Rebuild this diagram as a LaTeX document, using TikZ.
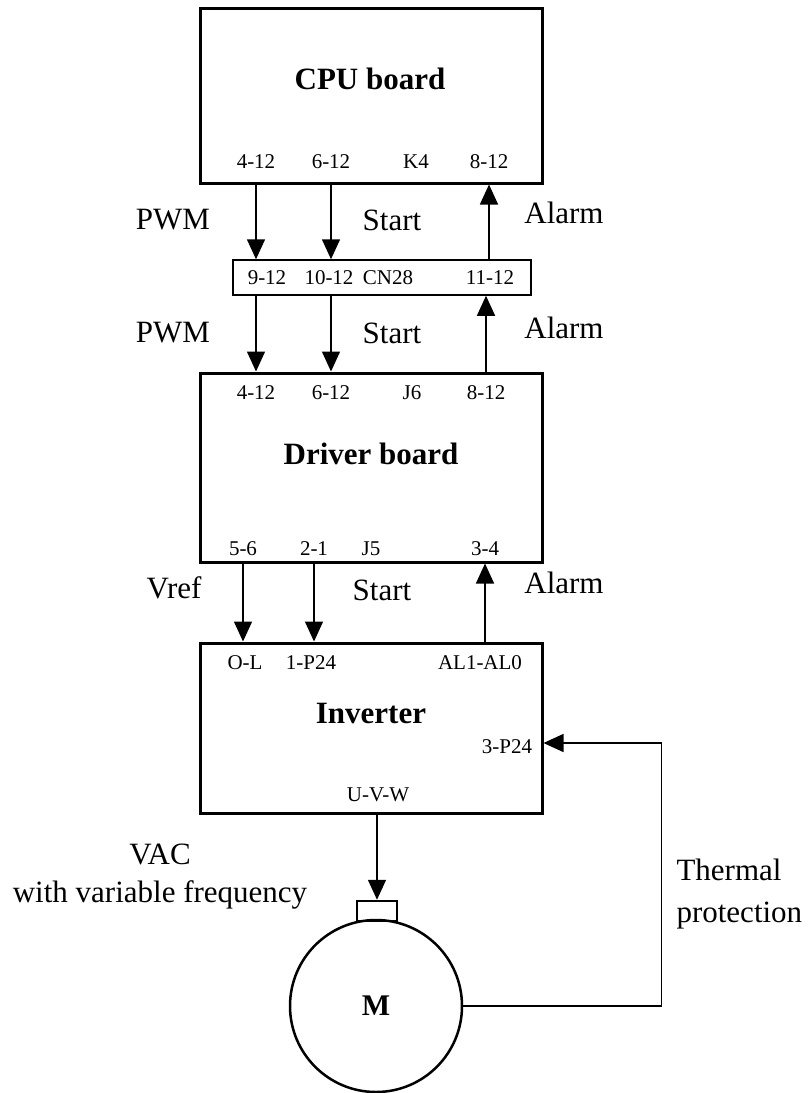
\documentclass[tikz,border=0pt]{standalone}
\usepackage{fontspec}
\setmainfont{Liberation Serif}
\usetikzlibrary{arrows.meta,calc,positioning}

\begin{document}
\begin{tikzpicture}[
    x=1pt, y=-1pt,
    font=\fontsize{31}{38}\selectfont,
    board/.style={draw, line width=3pt, minimum width=342pt, inner sep=0pt},
    pin/.style={font=\fontsize{21}{24}\selectfont, inner sep=0pt},
    title/.style={font=\fontsize{31}{36}\selectfont\bfseries, inner sep=0pt},
    arrow/.style={-{Triangle[length=20pt, width=18pt]}, line width=1.5pt}
  ]
    \useasboundingbox (0,0) rectangle (811,1093);
    % boards
    \node[board, minimum height=175pt] (cpu) at (371,95.5) {};
    \node[draw, line width=1.5pt, minimum width=298pt, minimum height=35pt, inner sep=0pt] (cn) at (382,277.5) {};
    \node[board, minimum height=189pt] (driver) at (371,467.5) {};
    \node[board, minimum height=170pt] (inverter) at (371,728) {};
    \node[draw, circle, line width=2.5pt, minimum size=172pt, inner sep=0pt, font=\fontsize{30}{36}\selectfont\bfseries] (motor) at (376,1006) {M};
    \node[draw, line width=2.5pt, minimum width=40pt, minimum height=20pt, inner sep=0pt] (term) at (377,911) {};
    % titles
    \node[title] (cputitle) at (370,79) {CPU board};
    \node[title] (drvtitle) at (371,454) {Driver board};
    \node[title] (invtitle) at (371,713) {Inverter};
    % pins
    \node[pin] (cpuA) at (256,162) {4-12};
    \node[pin] (cpuB) at (331,162) {6-12};
    \node[pin] (cpuK) at (416,162) {K4};
    \node[pin] (cpuC) at (489,162) {8-12};
    \node[pin] (cnA) at (267,278) {9-12};
    \node[pin] (cnB) at (329,278) {10-12};
    \node[pin] (cnN) at (388,278) {CN28};
    \node[pin] (cnC) at (490,278) {11-12};
    \node[pin] (drvA) at (256,393) {4-12};
    \node[pin] (drvB) at (331,393) {6-12};
    \node[pin] (drvJ) at (412,393) {J6};
    \node[pin] (drvC) at (486,393) {8-12};
    \node[pin] (drvD) at (243,549) {5-6};
    \node[pin] (drvE) at (314,549) {2-1};
    \node[pin] (drvK) at (371,549) {J5};
    \node[pin] (drvF) at (485,549) {3-4};
    \node[pin] (invA) at (245,663) {O-L};
    \node[pin] (invB) at (311,663) {1-P24};
    \node[pin] (invC) at (480,663) {AL1-AL0};
    \node[pin] (invT) at (507,747) {3-P24};
    \node[pin] (invU) at (378,795) {U-V-W};
    % signal labels
    \node (pwmA) at (173,220) {PWM};
    \node (startA) at (392,220) {Start};
    \node (alarmA) at (564,213) {Alarm};
    \node (pwmB) at (173,333) {PWM};
    \node (startB) at (392,333) {Start};
    \node (alarmB) at (564,328) {Alarm};
    \node (vref) at (174,588) {Vref};
    \node (startC) at (382,590) {Start};
    \node (alarmC) at (564,583) {Alarm};
    \node[align=center] (vac) at (160,877) {VAC\\with variable frequency};
    \node[align=left, anchor=west, font=\fontsize{31}{42}\selectfont] (therm) at (673,894) {Thermal\\protection};
    % connections
    \draw[arrow] (cpuA |- cpu.south) -- (cpuA |- cn.north);
    \draw[arrow] (cpuB |- cpu.south) -- (cpuB |- cn.north);
    \draw[arrow] (cpuC |- cn.north) -- (cpuC |- cpu.south);
    \draw[arrow] (drvA |- cn.south) -- (drvA |- driver.north);
    \draw[arrow] (drvB |- cn.south) -- (drvB |- driver.north);
    \draw[arrow] (drvC |- driver.north) -- (drvC |- cn.south);
    \draw[arrow] (drvD |- driver.south) -- (drvD |- inverter.north);
    \draw[arrow] (drvE |- driver.south) -- (drvE |- inverter.north);
    \draw[arrow] (drvF |- inverter.north) -- (drvF |- driver.south);
    \draw[arrow] (term |- inverter.south) -- (term.north);
    \draw[arrow] (motor.east) -- ++(198,0) |- ($(invT -| inverter.east)+(0,-4)$);
  \end{tikzpicture}
\end{document}
